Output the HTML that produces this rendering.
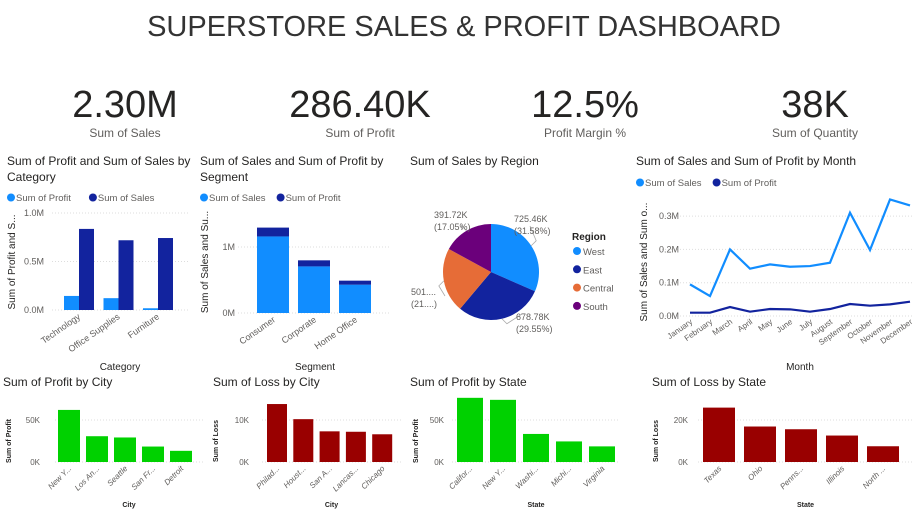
<!DOCTYPE html>
<html><head><meta charset="utf-8">
<style>
body{margin:0;background:#fff;width:918px;height:511px;overflow:hidden}
svg{display:block;font-family:"Liberation Sans",sans-serif}
</style></head>
<body>
<svg id="dash" width="918" height="511" viewBox="0 0 918 511" xmlns="http://www.w3.org/2000/svg">
<text x="464" y="36" text-anchor="middle" font-size="29" fill="#333">SUPERSTORE SALES &amp; PROFIT DASHBOARD</text>
<g><text x="125" y="117" text-anchor="middle" font-size="38" fill="#252423">2.30M</text><text x="125" y="137" text-anchor="middle" font-size="12" fill="#605e5c">Sum of Sales</text></g>
<g><text x="360" y="117" text-anchor="middle" font-size="38" fill="#252423">286.40K</text><text x="360" y="137" text-anchor="middle" font-size="12" fill="#605e5c">Sum of Profit</text></g>
<g><text x="585" y="117" text-anchor="middle" font-size="38" fill="#252423">12.5%</text><text x="585" y="137" text-anchor="middle" font-size="12" fill="#605e5c">Profit Margin %</text></g>
<g><text x="815" y="117" text-anchor="middle" font-size="38" fill="#252423">38K</text><text x="815" y="137" text-anchor="middle" font-size="12" fill="#605e5c">Sum of Quantity</text></g>
</svg>
<script>
// Category chart data
const catNames = ["Technology","Office Supplies","Furniture"];
const catProfit = [0.145,0.122,0.018];
const catSales = [0.836,0.719,0.742];
const catTicks = ["0.0M","0.5M","1.0M"];
// Segment chart data
const segNames = ["Consumer","Corporate","Home Office"];
const segSales = [1.16,0.706,0.429];
const segProfit = [0.134,0.092,0.061];
const segTicks = ["0M","1M"];
// Region pie data
const regNames = ["West","East","Central","South"];
const regValues = [725.46,678.78,501.24,391.72];
const regLabels = ["725.46K","678.78K","501....","391.72K"];
const regPct = ["(31.58%)","(29.55%)","(21....)","(17.05%)"];
// Month line data
const months = ["January","February","March","April","May","June","July","August","September","October","November","December"];
const monthSales = [0.095,0.06,0.2,0.142,0.155,0.148,0.15,0.16,0.31,0.198,0.35,0.332];
const monthProfit = [0.01,0.01,0.027,0.013,0.021,0.02,0.013,0.021,0.036,0.031,0.035,0.043];
const monthTicks = ["0.0M","0.1M","0.2M","0.3M"];
// Bottom charts
const cityProfitNames = ["New Y...","Los An...","Seattle","San Fr...","Detroit"];
const cityProfitVals = [62.0,30.7,29.2,18.4,13.3];
const cityLossNames = ["Philad...","Houst...","San A...","Lancas...","Chicago"];
const cityLossVals = [13.8,10.2,7.3,7.2,6.6];
const stateProfitNames = ["Califor...","New Y...","Washi...","Michi...","Virginia"];
const stateProfitVals = [76.4,74.0,33.4,24.5,18.6];
const stateLossNames = ["Texas","Ohio","Penns...","Illinois","North ..."];
const stateLossVals = [25.9,16.9,15.6,12.6,7.5];

const svg=document.getElementById('dash');
const NS="http://www.w3.org/2000/svg";
function mk(tag,attrs,parent){const e=document.createElementNS(NS,tag);for(const k in attrs)e.setAttribute(k,attrs[k]);(parent||svg).appendChild(e);return e;}
function txt(x,y,s,size,fill,extra){const e=mk('text',Object.assign({x:x,y:y,'font-size':size,fill:fill},extra||{}));e.textContent=s;return e;}
const LB="#118dff", DB="#12239e", GR="#605e5c";

// ---- Category chart ----
let t=txt(7,165,"Sum of Profit and Sum of Sales by",12,"#252423");


t=txt(7,181,"Category",12,"#252423");


function legend(x,y,items){let cx=x;items.forEach(it=>{let c=mk('circle',{cx:cx+4,cy:y-3.5,r:4,fill:it[1]});


let l=txt(cx+9,y,it[0],9.5,GR);


cx+=9+it[0].length*5.3+4;});}
legend(7,201,[["Sum of Profit",LB],["Sum of Sales",DB]]);
const cy0=310, cyS=97;
function cY(v){return cy0-v*cyS;}
catTicks.forEach((s,i)=>{const v=i*0.5;let g=mk('line',{x1:52,x2:190,y1:cY(v),y2:cY(v),stroke:"#ddd","stroke-dasharray":"1,2"});


let l=txt(44,cY(v)+3,s,9,GR,{'text-anchor':'end'});

});
catNames.forEach((n,i)=>{const c=79+i*39.5;
let b=mk('rect',{x:c-15,y:cY(catProfit[i]),width:15,height:catProfit[i]*cyS,fill:LB});


b=mk('rect',{x:c,y:cY(catSales[i]),width:15,height:catSales[i]*cyS,fill:DB});


let l=txt(c+2,318,n,9,GR,{'text-anchor':'end',transform:`rotate(-35 ${c+2} 318)`});

});
t=txt(15,262,"Sum of Profit and S...",10,"#252423",{'text-anchor':'middle',transform:'rotate(-90 15 262)'});


t=txt(120,370,"Category",10,"#252423",{'text-anchor':'middle'});



// ---- Segment chart ----
t=txt(200,165,"Sum of Sales and Sum of Profit by",12,"#252423");


t=txt(200,181,"Segment",12,"#252423");


legend(200,201,[["Sum of Sales",LB],["Sum of Profit",DB]]);
function sY(v){return 313-v*66;}
segTicks.forEach((s,i)=>{let g=mk('line',{x1:238,x2:390,y1:sY(i),y2:sY(i),stroke:"#ddd","stroke-dasharray":"1,2"});


let l=txt(235,sY(i)+3,s,9,GR,{'text-anchor':'end'});

});
segNames.forEach((n,i)=>{const c=273+i*41;
let b=mk('rect',{x:c-16,y:sY(segSales[i]),width:32,height:segSales[i]*66,fill:LB});


b=mk('rect',{x:c-16,y:sY(segSales[i]+segProfit[i]),width:32,height:segProfit[i]*66,fill:DB});


let l=txt(c+3,321,n,9,GR,{'text-anchor':'end',transform:`rotate(-35 ${c+3} 321)`});

});
t=txt(208,262,"Sum of Sales and Su...",10,"#252423",{'text-anchor':'middle',transform:'rotate(-90 208 262)'});


t=txt(315,370,"Segment",10,"#252423",{'text-anchor':'middle'});



// ---- Pie ----
t=txt(410,165,"Sum of Sales by Region",12,"#252423");


const pcx=491,pcy=272,pr=48,pcol=[LB,DB,"#e66c37","#6b007b"];
const tot=regValues.reduce((a,b)=>a+b,0);let ang=-Math.PI/2;
const labPos=[[514,222,'start',530,226],[516,320,'start',522,314],[411,295,'start',445,296],[434,218,'start',462,230]];
regValues.forEach((v,i)=>{const a2=ang+v/tot*2*Math.PI;
const x1=pcx+pr*Math.cos(ang),y1=pcy+pr*Math.sin(ang),x2=pcx+pr*Math.cos(a2),y2=pcy+pr*Math.sin(a2);
let p=mk('path',{d:`M${pcx},${pcy}L${x1},${y1}A${pr},${pr} 0 ${a2-ang>Math.PI?1:0} 1 ${x2},${y2}Z`,fill:pcol[i]});


const mid=(ang+a2)/2,ex=pcx+pr*Math.cos(mid),ey=pcy+pr*Math.sin(mid);
const lp=labPos[i];
let ln=mk('polyline',{points:`${ex},${ey} ${ex+(Math.cos(mid)>0?5:-5)},${ey+(Math.sin(mid)>0?5:-5)} ${lp[3]},${lp[4]}`,fill:'none',stroke:'#aaa','stroke-width':0.8});


let l=txt(lp[0],lp[1],regLabels[i],9,GR);


l=txt(lp[0],lp[1]+12,regPct[i],9,GR);


ang=a2;});
t=txt(572,240,"Region",10,"#252423",{'font-weight':'bold'});


regNames.forEach((n,i)=>{let c=mk('circle',{cx:577,cy:251+i*18.3,r:4,fill:pcol[i]});


let l=txt(583,255+i*18.3,n,9.5,GR);

});

// ---- Line chart ----
t=txt(636,165,"Sum of Sales and Sum of Profit by Month",12,"#252423");


legend(636,186,[["Sum of Sales",LB],["Sum of Profit",DB]]);
function mX(i){return 690+i*20;}
function mY(v){return 316-v*333;}
monthTicks.forEach((s,i)=>{const v=i*0.1;let g=mk('line',{x1:662,x2:912,y1:mY(v),y2:mY(v),stroke:"#ddd","stroke-dasharray":"1,2"});


let l=txt(679,mY(v)+3,s,9,GR,{'text-anchor':'end'});

});
let pl=mk('polyline',{points:monthSales.map((v,i)=>mX(i)+','+mY(v)).join(' '),fill:'none',stroke:LB,'stroke-width':2.2});


pl=mk('polyline',{points:monthProfit.map((v,i)=>mX(i)+','+mY(v)).join(' '),fill:'none',stroke:DB,'stroke-width':2.2});


months.forEach((m,i)=>{let l=txt(mX(i)+3,323,m,8,GR,{'text-anchor':'end',transform:`rotate(-35 ${mX(i)+3} 323)`});

});
t=txt(647,262,"Sum of Sales and Sum o...",10,"#252423",{'text-anchor':'middle',transform:'rotate(-90 647 262)'});


t=txt(800,370,"Month",10,"#252423",{'text-anchor':'middle'});



// ---- Bottom bar charts ----
function small(o){
 let t=txt(o.tx,386,o.title,12,"#252423");
 
 
 const y0=462,yTop=420;const sc=(y0-yTop)/o.tick;
 [0,o.tick].forEach(v=>{let g=mk('line',{x1:o.gx1,x2:o.gx2,y1:y0-v*sc,y2:y0-v*sc,stroke:"#ddd","stroke-dasharray":"1,2"});
 
 
 let l=txt(o.lx,y0-v*sc+3,(v/1)+"K",8,GR,{'text-anchor':'end'});
 
 });
 o.vals.forEach((v,i)=>{const x=o.bx+i*o.step;
 let b=mk('rect',{x:x,y:y0-v*sc,width:o.bw,height:v*sc,fill:o.col});
 
 
 const cx=x+o.bw/2+3;
 let l=txt(cx,469,o.names[i],8,GR,{'text-anchor':'end','font-style':'italic',transform:`rotate(-45 ${cx} 469)`});
 
 });
 t=txt(o.yx,441,o.ytitle,7,"#252423",{'text-anchor':'middle','font-weight':'bold',transform:`rotate(-90 ${o.yx} 441)`});
 
 
 t=txt((o.gx1+o.gx2)/2,507,o.xtitle,7,"#252423",{'text-anchor':'middle','font-weight':'bold'});
 
 
}
const GRN="#00d100", RED="#990000";
small({id:'profit-city',title:"Sum of Profit by City",tx:3,tick:50,gx1:55,gx2:203,lx:40,bx:58,step:28,bw:22,vals:cityProfitVals,names:cityProfitNames,col:GRN,yx:11,ytitle:"Sum of Profit",xtitle:"City"});
small({id:'loss-city',title:"Sum of Loss by City",tx:213,tick:10,gx1:262,gx2:401,lx:249,bx:267,step:26.3,bw:20,vals:cityLossVals,names:cityLossNames,col:RED,yx:218,ytitle:"Sum of Loss",xtitle:"City"});
small({id:'profit-state',title:"Sum of Profit by State",tx:410,tick:50,gx1:452,gx2:620,lx:444,bx:457,step:33,bw:26,vals:stateProfitVals,names:stateProfitNames,col:GRN,yx:418,ytitle:"Sum of Profit",xtitle:"State"});
small({id:'loss-state',title:"Sum of Loss by State",tx:652,tick:20,gx1:698,gx2:913,lx:688,bx:703,step:41,bw:32,vals:stateLossVals,names:stateLossNames,col:RED,yx:658,ytitle:"Sum of Loss",xtitle:"State"});
</script>
</body></html>
